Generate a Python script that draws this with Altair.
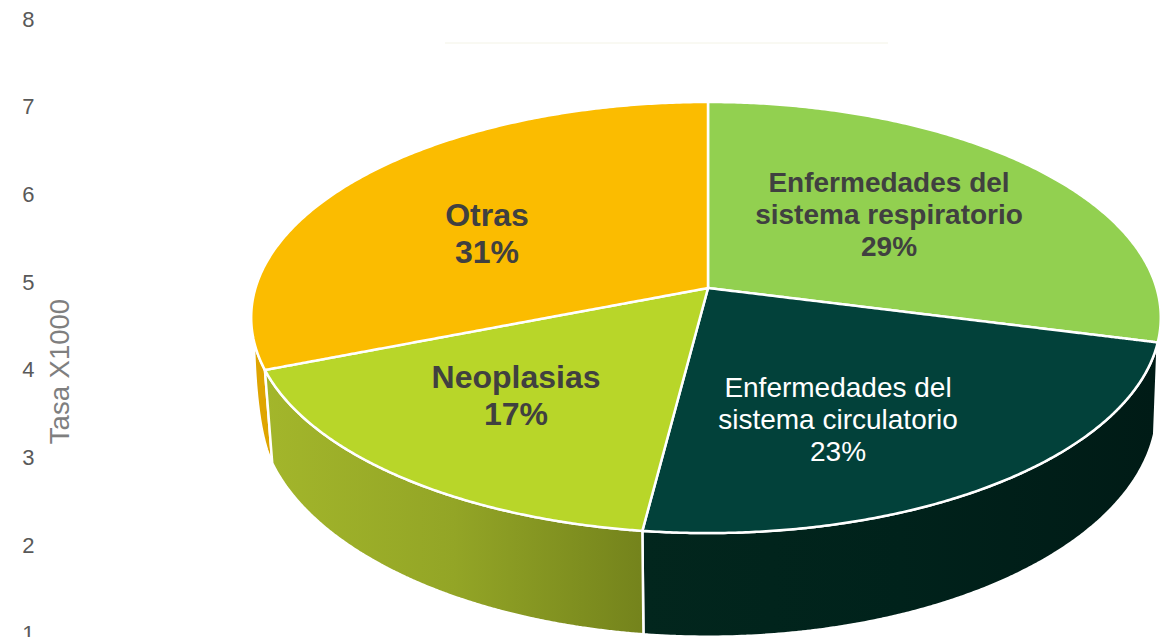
import numpy as np
import pandas as pd
import altair as alt

# ---- values
categories = ["Enfermedades del sistema respiratorio", "Enfermedades del sistema circulatorio", "Neoplasias", "Otras"]
shares = [29, 23, 17, 31]
top_colors = ["#92D050", "#02413A", "#B8D629", "#FBBC00"]
wall_stops = [
    None,
    ["#02261D", "#00221B", "#001B16"],
    ["#A3B62B", "#93A526", "#74831C"],
    ["#DFA500", "#DFA500"],
]
tick_values = [1, 2, 3, 4, 5, 6, 7, 8]
axis_title = "Tasa X1000"
label_rows = [
    ("Enfermedades del", 889, 184, "head"), ("sistema respiratorio", 889, 216, "head"), ("29%", 889, 248, "head"),
    ("Otras", 487, 216, "big"), ("31%", 487, 253, "big"),
    ("Neoplasias", 516, 378, "big"), ("17%", 516, 415, "big"),
    ("Enfermedades del", 838, 388.5, "white"), ("sistema circulatorio", 838, 420.5, "white"), ("23%", 838, 452.5, "white"),
]

# ---- layout of the picture
X0, X1 = 40, 1168
Y_TOP, UNIT = 19.0, 614 / 7
xscale = alt.Scale(domain=[X0, X1], range=[0, X1 - X0], nice=False, zero=False)
yscale = alt.Scale(domain=[1, 8], nice=False, zero=False)
FONT = "Liberation Sans"
yaxis = alt.Axis(
    values=tick_values, format="d", title=axis_title, domain=False, ticks=False, grid=False,
    labelFont=FONT, labelFontSize=22, labelColor="#595959", labelPadding=6, labelAlign="right",
    labelFlush=False, labelOverlap=False, labelBound=False,
    titleFont=FONT, titleFontSize=27.5, titleFontWeight="normal", titleColor="#7F7F7F",
    titleX=34, titleY=352,
)


def to_val(py):
    return 8 - (np.asarray(py, float) - Y_TOP) / UNIT


def disk(theta_deg, cx, cy, a_left, a_right, b, k=0.137):
    t = np.radians(theta_deg)
    u, v = np.sin(t), -np.cos(t)
    w = 1 - k * v
    a = np.where(u < 0, a_left, a_right)
    return cx + a * u / w, cy + b * v / w


def top_disk(t):
    return disk(t, 708, 288, 452.5, 448.5, 211.5)


def low_disk(t):
    return disk(t, 708, 376, 445, 445, 225)


def polygon_frame(px, py):
    """x-monotone outline -> x / y / y2 table for an area mark."""
    px, py = np.asarray(px, float), np.asarray(py, float)
    i0 = int(np.argmin(px))
    px, py = np.roll(px, -i0), np.roll(py, -i0)
    i1 = int(np.argmax(px))
    ax, ay = px[: i1 + 1], py[: i1 + 1]
    bx, by = np.r_[px[i1:], px[0]][::-1], np.r_[py[i1:], py[0]][::-1]
    xs = np.unique(np.r_[ax, bx])
    ya = np.interp(xs, ax, ay)
    yb = np.interp(xs, bx, by)
    return pd.DataFrame({"x": xs, "y": to_val(ya), "y2": to_val(yb)})


def area_layer(df, fill):
    return alt.Chart(df).mark_area(
        color=fill, fill=fill, stroke="white", strokeWidth=2.5, clip=False, interpolate="linear"
    ).encode(
        x=alt.X("x:Q", scale=xscale, axis=None),
        y=alt.Y("y:Q", scale=yscale, axis=yaxis),
        y2="y2:Q",
    )


def grad(stops):
    n = len(stops) - 1
    return alt.Gradient(
        gradient="linear", x1=0, x2=1, y1=0, y2=0,
        stops=[alt.GradientStop(color=c, offset=i / n) for i, c in enumerate(stops)],
    )


edges = np.cumsum([0] + shares) * 3.6
layers = []

# faint rule near the top
rule_df = pd.DataFrame({"x": [445], "x2": [888], "y": to_val([43])})
layers.append(
    alt.Chart(rule_df).mark_rule(color="#F3F3E6", strokeWidth=1).encode(
        x=alt.X("x:Q", scale=xscale, axis=None),
        x2="x2:Q",
        y=alt.Y("y:Q", scale=yscale, axis=yaxis),
    )
)

# walls: the small orange one first, its outer edge curving down to the foot of the green wall
ta = np.linspace(edges[3], 256, 30)
tx, ty = top_disk(ta)
foot_x, foot_y = low_disk(np.array([edges[3]]))
s = np.linspace(0, 1, 30)
cx_, cy_ = 256.0, 430.0
ex = (1 - s) ** 2 * tx[-1] + 2 * s * (1 - s) * cx_ + s**2 * foot_x[0]
ey = (1 - s) ** 2 * ty[-1] + 2 * s * (1 - s) * cy_ + s**2 * foot_y[0]
layers.append(area_layer(polygon_frame(np.r_[tx, ex[1:]], np.r_[ty, ey[1:]]), grad(wall_stops[3])))

for i in (1, 2):
    ta = np.linspace(edges[i], edges[i + 1], 160)
    tx, ty = top_disk(ta)
    bx, by = low_disk(ta)
    layers.append(area_layer(polygon_frame(np.r_[tx, bx[::-1]], np.r_[ty, by[::-1]]), grad(wall_stops[i])))

# top faces
for i, c in enumerate(top_colors):
    ta = np.linspace(edges[i], edges[i + 1], 220)
    tx, ty = top_disk(ta)
    layers.append(area_layer(polygon_frame(np.r_[708.0, tx], np.r_[288.0, ty]), c))

# text
styles = {
    "head": dict(fontSize=28, fontWeight="bold", color="#404040"),
    "big": dict(fontSize=32, fontWeight="bold", color="#404040"),
    "white": dict(fontSize=28, fontWeight="normal", color="#FFFFFF"),
}
labels = pd.DataFrame(label_rows, columns=["text", "x", "py", "style"])
labels["y"] = to_val(labels["py"])
for name, st in styles.items():
    layers.append(
        alt.Chart(labels[labels["style"] == name]).mark_text(font=FONT, align="center", baseline="middle", **st).encode(
            x=alt.X("x:Q", scale=xscale, axis=None),
            y=alt.Y("y:Q", scale=yscale, axis=yaxis),
            text="text:N",
        )
    )

chart = (
    alt.layer(*layers)
    .properties(
        width=X1 - X0, height=614,
        autosize=alt.AutoSizeParams(type="none"),
        padding={"left": 32, "top": 11, "right": 0, "bottom": 6},
        background="white",
        usermeta={"embedOptions": {"defaultStyle": "html{overflow:hidden;height:637px} body{margin:8px 8px 0 8px;height:629px;overflow:hidden}"}},
    )
    .configure_view(stroke=None)
)
chart.save("out.html", embed_options={"renderer": "svg", "actions": False})
